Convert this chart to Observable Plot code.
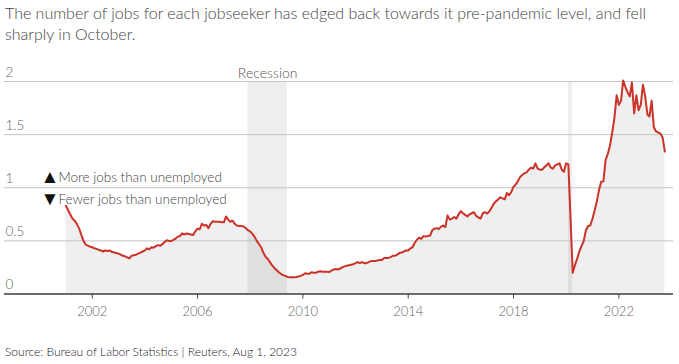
<!DOCTYPE html>
<html><head><meta charset="utf-8">
<script src="https://cdn.jsdelivr.net/npm/d3@7"></script>
<script src="https://cdn.jsdelivr.net/npm/@observablehq/plot@0.6"></script>
<style>
body{margin:0;background:#fff;font-family:Lato,"Open Sans",sans-serif;font-weight:300;}
#title{box-sizing:border-box;padding:2px 0 0 5px;height:50px;font-size:16px;line-height:21px;color:#444;}
#caption{padding:14px 0 0 5px;font-size:12px;line-height:16px;color:#222;font-weight:300;}
svg text{font-weight:300;}
</style></head><body>
<div id="title">The number of jobs for each jobseeker has edged back towards it pre-pandemic level, and fell<br>sharply in October.</div>
<div id="chart"></div>
<div id="caption">Source: Bureau of Labor Statistics | Reuters, Aug 1, 2023</div>
<script>
// Job openings per unemployed person, monthly
const firstYear = 2001;
const r2001 = [0.83,0.79,0.75,0.71,0.69,0.66,0.62,0.56,0.50,0.465,0.455,0.445];
const r2002 = [0.44,0.43,0.425,0.415,0.41,0.40,0.41,0.405,0.41,0.395,0.39,0.385];
const r2003 = [0.38,0.37,0.36,0.355,0.345,0.335,0.36,0.365,0.37,0.38,0.39,0.40];
const r2004 = [0.41,0.43,0.42,0.44,0.435,0.45,0.46,0.455,0.47,0.49,0.505,0.50];
const r2005 = [0.50,0.51,0.52,0.54,0.545,0.57,0.56,0.57,0.565,0.56,0.555,0.59];
const r2006 = [0.615,0.61,0.66,0.645,0.65,0.62,0.66,0.685,0.68,0.68,0.68,0.675];
const r2007 = [0.675,0.73,0.70,0.68,0.69,0.66,0.645,0.64,0.64,0.635,0.62,0.60];
const r2008 = [0.59,0.565,0.54,0.50,0.47,0.44,0.39,0.35,0.33,0.30,0.27,0.245];
const r2009 = [0.225,0.205,0.19,0.178,0.17,0.16,0.158,0.158,0.158,0.16,0.165,0.17];
const r2010 = [0.18,0.195,0.19,0.19,0.205,0.20,0.20,0.21,0.215,0.21,0.21,0.21];
const r2011 = [0.206,0.22,0.23,0.235,0.23,0.24,0.25,0.26,0.265,0.27,0.275,0.28];
const r2012 = [0.29,0.30,0.29,0.30,0.29,0.29,0.30,0.31,0.31,0.31,0.315,0.32];
const r2013 = [0.32,0.34,0.34,0.34,0.347,0.36,0.36,0.37,0.385,0.39,0.40,0.41];
const r2014 = [0.41,0.43,0.44,0.48,0.51,0.53,0.52,0.545,0.54,0.545,0.55,0.60];
const r2015 = [0.615,0.62,0.61,0.635,0.645,0.63,0.74,0.70,0.71,0.725,0.71,0.75];
const r2016 = [0.78,0.76,0.745,0.73,0.75,0.76,0.77,0.735,0.72,0.71,0.76,0.77];
const r2017 = [0.757,0.78,0.81,0.85,0.87,0.89,0.91,0.90,0.89,0.95,0.93,0.96];
const r2018 = [1.01,1.03,1.06,1.10,1.12,1.135,1.145,1.17,1.19,1.18,1.23,1.18];
const r2019 = [1.17,1.17,1.19,1.21,1.23,1.19,1.18,1.21,1.22,1.23,1.17,1.15];
const r2020 = [1.23,1.22,0.72,0.20,0.27,0.33,0.40,0.45,0.50,0.60,0.64,0.645];
const r2021 = [0.71,0.79,0.87,0.98,1.056,1.06,1.26,1.32,1.40,1.52,1.66,1.87];
const r2022 = [1.78,1.82,2.01,1.95,1.90,1.86,1.99,1.70,1.87,1.73,1.78,1.97];
const r2023 = [1.86,1.69,1.67,1.82,1.57,1.53,1.52,1.51,1.47,1.34];

const yearly = [r2001,r2002,r2003,r2004,r2005,r2006,r2007,r2008,r2009,r2010,r2011,r2012,
  r2013,r2014,r2015,r2016,r2017,r2018,r2019,r2020,r2021,r2022,r2023];

const recessionStarts = ["2007-12-01","2020-02-01"];
const recessionEnds = ["2009-06-01","2020-04-01"];
const recessionLabel = "Recession";
const yTicks = [0,0.5,1,1.5,2];
const xTickYears = [2002,2006,2010,2014,2018,2022];
const legendMarks = ["▲", "▼"];
const legendLabels = ["More jobs than unemployed", "Fewer jobs than unemployed"];
const threshold = 1;

const series = yearly.flatMap((vals, i) =>
  vals.map((v, m) => ({date: new Date(Date.UTC(firstYear + i, m, 1)), value: v})));
const recessions = recessionStarts.map((s, i) => ({start: new Date(s), end: new Date(recessionEnds[i])}));
const recMid = recessions.map(r => ({mid: new Date((+r.start + +r.end) / 2), label: recessionLabel}));
const xTicks = xTickYears.map(y => new Date(Date.UTC(y, 0, 1)));

const legendText = (text, dx, dy, size, fill, font) => Plot.text([text], {
  y: () => threshold, text: d => d, frameAnchor: "left", dx, dy,
  textAnchor: "start", fill, fontSize: size, fontFamily: font});

const chart = Plot.plot({
  width: 679, height: 280,
  marginTop: 31, marginBottom: 36.5, marginLeft: 4, marginRight: 6,
  style: {fontFamily: "Lato, sans-serif", fontSize: "13px", color: "#555", background: "#fff"},
  x: {type: "utc", domain: [new Date(Date.UTC(1998, 8, 2)), new Date(Date.UTC(2024, 0, 29))]},
  y: {domain: [0, 2]},
  marks: [
    Plot.areaY(series, {x: "date", y: "value", fill: "#efefef"}),
    Plot.rect(recessions, {x1: "start", x2: "end", fill: "#000", fillOpacity: 0.065}),
    Plot.gridY(yTicks, {stroke: "#c4c4c4", strokeOpacity: 1}),
    Plot.ruleY([0], {stroke: "#444", strokeWidth: 1.3}),
    Plot.lineY(series, {x: "date", y: "value", stroke: "#cc3328", strokeWidth: 2}),
    Plot.axisY(yTicks, {anchor: "left", tickSize: 0, tickPadding: 0, textAnchor: "start", dx: 1, dy: -9,
      tickFormat: d => String(d), label: null, fill: "#666", fontSize: 13.5}),
    Plot.axisX(xTicks, {tickSize: 5, tickPadding: 8, tickFormat: d3.utcFormat("%Y"), label: null,
      stroke: "#444", fill: "#666", fontSize: 13}),
    Plot.text(recMid.slice(0, 1), {x: "mid", text: "label", frameAnchor: "top", dy: -13, fill: "#555", fontSize: 14}),
    legendText(legendMarks[0], 36, -10.5, 19, "#111", "DejaVu Sans"),
    legendText(legendMarks[1], 36, 11, 19, "#111", "DejaVu Sans"),
    legendText(legendLabels[0], 54, -10, 13.5, "#444", "Lato, sans-serif"),
    legendText(legendLabels[1], 54, 11.5, 13.5, "#444", "Lato, sans-serif")
  ]
});
document.getElementById("chart").appendChild(chart);
</script>
</body></html>
